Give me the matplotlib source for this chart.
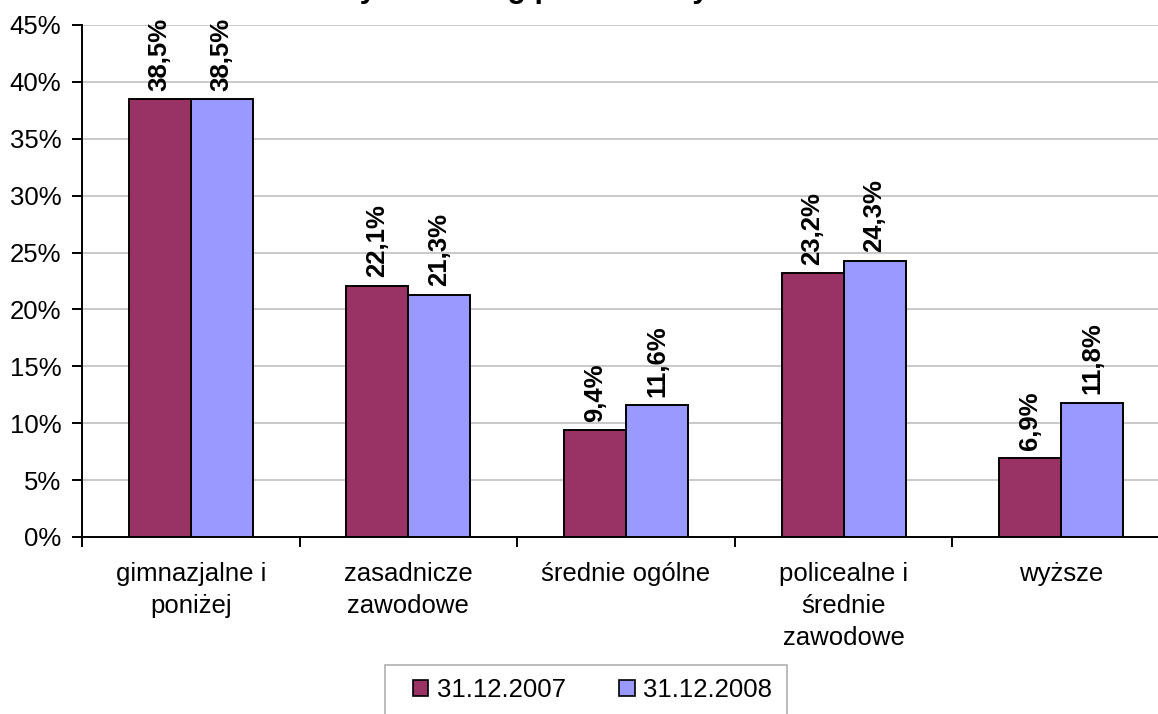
import matplotlib
matplotlib.use("Agg")
import matplotlib.pyplot as plt
import numpy as np
from matplotlib.ticker import FuncFormatter, MultipleLocator, FixedLocator
from matplotlib.patches import Rectangle

categories = ["gimnazjalne i\nponiżej", "zasadnicze\nzawodowe", "średnie ogólne",
              "policealne i\nśrednie\nzawodowe", "wyższe"]
series_names = ["31.12.2007", "31.12.2008"]
values_2007 = [38.5, 22.1, 9.4, 23.2, 6.9]
values_2008 = [38.5, 21.3, 11.6, 24.3, 11.8]
title_text = "Struktura bezrobotnych według poziomu wykształcenia"

colors = ["#993366", "#9999FF"]

plt.rcParams['font.family'] = ['Liberation Sans', 'DejaVu Sans']

W, H = 1158, 714
fig = plt.figure(figsize=(W / 100, H / 100), dpi=100)

left, right, top, bottom = 82, 1170, 25, 537
ax = fig.add_axes([left / W, 1 - bottom / H, (right - left) / W, (bottom - top) / H])

x = np.arange(len(categories))
bw = 0.285
ax.bar(x - bw / 2, values_2007, bw, color=colors[0], edgecolor="black", linewidth=1.4,
       label=series_names[0], zorder=3)
ax.bar(x + bw / 2, values_2008, bw, color=colors[1], edgecolor="black", linewidth=1.4,
       label=series_names[1], zorder=3)

for xs, vals in ((x - bw / 2, values_2007), (x + bw / 2, values_2008)):
    for xi, v in zip(xs, vals):
        ax.annotate(f"{v:.1f}%".replace(".", ","), (xi, v), xytext=(0, 6),
                    textcoords="offset points", rotation=90, ha="center", va="bottom",
                    fontsize=18.5, fontweight="bold", zorder=4, annotation_clip=False)

ax.set_xlim(-0.5, len(categories) - 0.5)
ax.set_ylim(0, 45)
ax.yaxis.set_major_locator(MultipleLocator(5))
ax.yaxis.set_major_formatter(FuncFormatter(lambda v, p: f"{v:.0f}%"))
ax.grid(axis="y", color="#c0c0c0", linewidth=1.2, zorder=0)
ax.set_axisbelow(True)

ax.set_xticks(x)
ax.set_xticklabels(categories, fontsize=18.5, linespacing=1.42, va="top")
ax.tick_params(axis="x", which="major", length=0, pad=18)
ax.xaxis.set_minor_locator(FixedLocator(np.arange(len(categories) + 1) - 0.5))
ax.tick_params(axis="x", which="minor", length=7, width=1.4, direction="out")
ax.tick_params(axis="y", length=7, width=1.4, labelsize=18.5, pad=8)

for s in ("top", "right"):
    ax.spines[s].set_visible(False)
for s in ("left", "bottom"):
    ax.spines[s].set_linewidth(1.4)

# legend frame drawn as a figure patch (box runs past the bottom edge)
fig.patches.append(Rectangle((385 / W, -10 / H), (787 - 385) / W, (714 - 665 + 10) / H,
                             transform=fig.transFigure, facecolor="white",
                             edgecolor="#b0b0b0", linewidth=1.2, zorder=1))
leg = fig.legend(loc="center left", bbox_to_anchor=(413 / W, 1 - 690 / H), ncol=2,
                 fontsize=18.5, frameon=False, handlelength=0.6,
                 handleheight=0.6, handletextpad=0.35, columnspacing=2.05,
                 borderpad=0, borderaxespad=0)
leg.set_zorder(2)
for h in leg.legend_handles:
    h.set_edgecolor("black")
    h.set_linewidth(1.2)

fig.text(470 / W, 1 + 3 / H, title_text, ha="center", va="baseline",
         fontsize=22, fontweight="bold")

fig.savefig("out.png", dpi=100)
